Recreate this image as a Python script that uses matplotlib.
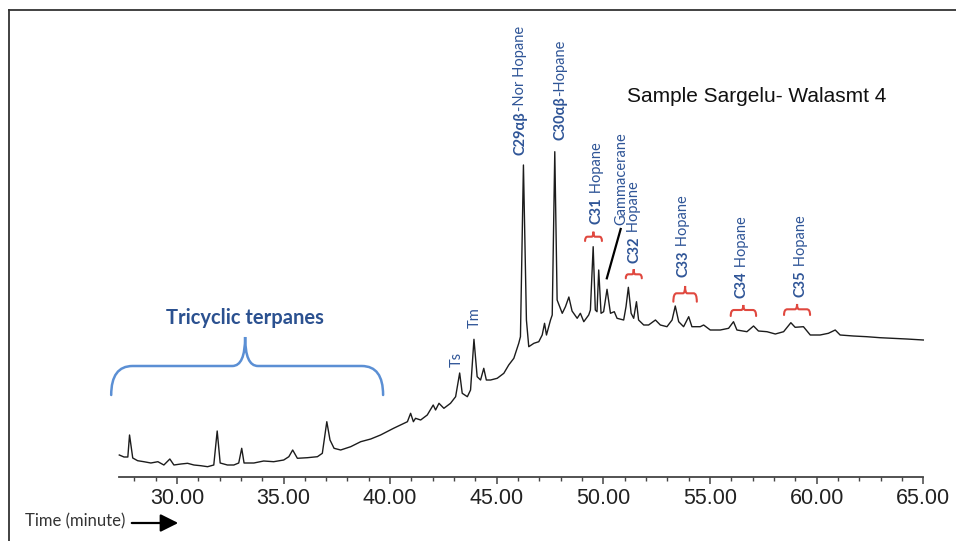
import numpy as np
import matplotlib
matplotlib.use('Agg')
from matplotlib import pyplot as plt
from matplotlib.path import Path
from matplotlib.patches import PathPatch, FancyArrowPatch
from matplotlib.lines import Line2D

# retention time (minutes) and detector response
time = [27.30, 27.52, 27.70, 27.78, 27.93, 28.16, 28.45, 28.78, 29.11, 29.39,
        29.67, 29.86, 30.19, 30.50, 30.80, 31.12, 31.44, 31.73, 31.89, 32.03,
        32.37, 32.67, 32.90, 33.04, 33.15, 33.61, 34.07, 34.54, 35.01, 35.25,
        35.43, 35.65, 36.12, 36.59, 36.82, 37.03, 37.18, 37.37, 37.68, 38.15,
        38.62, 39.09, 39.55, 40.16, 40.81, 40.96, 41.09, 41.19, 41.43, 41.74,
        42.02, 42.13, 42.29, 42.52, 42.83, 43.07, 43.26, 43.38, 43.62, 43.77,
        43.93, 44.08, 44.24, 44.39, 44.51, 44.71, 45.02, 45.33, 45.56, 45.80,
        46.03, 46.11, 46.25, 46.39, 46.50, 46.74, 46.97, 47.13, 47.24, 47.33,
        47.52, 47.60, 47.72, 47.83, 48.07, 48.22, 48.38, 48.53, 48.77, 48.92,
        49.08, 49.31, 49.39, 49.52, 49.62, 49.70, 49.78, 49.89, 50.01, 50.17,
        50.33, 50.51, 50.64, 50.95, 51.06, 51.17, 51.30, 51.42, 51.55, 51.65,
        51.89, 52.12, 52.44, 52.67, 52.98, 53.22, 53.37, 53.53, 53.76, 54.00,
        54.15, 54.54, 54.70, 55.01, 55.48, 55.87, 56.10, 56.26, 56.73, 57.04,
        57.27, 57.67, 58.06, 58.45, 58.79, 58.99, 59.38, 59.70, 60.16, 60.55,
        60.87, 61.10, 61.72, 62.35, 62.97, 63.60, 64.22, 65.00]

response = [22, 20, 20, 42, 19, 16.3, 15.3, 14, 15.3, 12,
            18, 12, 13, 13.7, 12, 11.3, 10.3, 12, 46, 14,
            12, 12, 14, 28.7, 14, 14, 16, 15.3, 17, 20.3,
            27, 18.7, 19.3, 20.3, 23.7, 55.3, 37, 28.7, 27, 30.3,
            35.3, 38, 42, 48.7, 55.3, 63.7, 55.3, 58.7, 57, 62,
            72, 67, 73.7, 68.7, 73.7, 80.3, 104, 83.7, 80.3, 87,
            137.7, 100.3, 97, 108.7, 97, 97, 98.7, 103.7, 112, 118.7,
            133.7, 140.3, 312, 157, 130.3, 133.7, 135.3, 142, 153.7, 142,
            157, 162, 325.3, 177, 163.7, 170.3, 180, 166, 158.7, 163.7,
            155.3, 162, 167, 230.3, 167, 165.3, 207, 163.7, 165.3, 187.7,
            163.7, 165.3, 158.7, 157, 170.3, 189.7, 163.7, 158.7, 175.3, 157,
            152, 152, 157, 152, 150.3, 157, 171, 155.3, 150.3, 160.3,
            150.3, 150.3, 152, 147, 147, 148.7, 155.3, 147, 145.3, 151,
            146, 145.3, 143, 145.3, 154.3, 149.7, 150.3, 142, 142, 143.7,
            147, 142, 141, 140.3, 139.3, 138.7, 138, 137]

major_ticks = [30, 35, 40, 45, 50, 55, 60, 65]
tick_labels = ['30.00', '35.00', '40.00', '45.00', '50.00', '55.00', '60.00', '65.00']

# compound names: bold part, plain part
compounds = [('C29αβ', '-Nor Hopane'), ('C30αβ', '-Hopane'), ('C31', ' Hopane'),
             ('C32', ' Hopane'), ('C33', ' Hopane'), ('C34', ' Hopane'), ('C35', ' Hopane')]
minor_names = ['Ts', 'Tm', 'Gammacerane']
sample_name = 'Sample Sargelu- Walasmt 4'

blue_text = '#2f5597'
blue_brace = '#5b8fd4'
red = '#e0483f'
label_font = ['Lato', 'DejaVu Sans']


def draw_brace(ax, x0, x1, xm, yb, ym, yt, rx, rt, color, lw):
    verts = [(x0, yb), (x0, ym), (x0 + rx, ym),
             (xm - rt, ym), (xm, ym), (xm, yt),
             (xm, ym), (xm + rt, ym),
             (x1 - rx, ym), (x1, ym), (x1, yb)]
    codes = [Path.MOVETO, Path.CURVE3, Path.CURVE3,
             Path.LINETO, Path.CURVE3, Path.CURVE3,
             Path.CURVE3, Path.CURVE3,
             Path.LINETO, Path.CURVE3, Path.CURVE3]
    ax.add_patch(PathPatch(Path(verts, codes), facecolor='none', edgecolor=color,
                           lw=lw, capstyle='round', clip_on=False))


def vlabel(ax, x, y, bold, rest, size=10.5):
    t = ax.text(x, y, bold, rotation=90, ha='center', va='bottom', color=blue_text,
                fontsize=size, fontweight='bold', family=label_font, clip_on=False)
    ax.annotate(rest, xy=(0.5, 1.0), xycoords=t, rotation=90, ha='center', va='bottom',
                color=blue_text, fontsize=size, family=label_font)


fig = plt.figure(figsize=(9.56, 5.41), dpi=100)
ax = fig.add_axes([119.3 / 956, 1 - 477 / 541, 804 / 956, 457 / 541])

ax.plot(time, response, color='#1c1c1c', lw=1.0, clip_on=False)

ax.set_xlim(27.3, 65.0)
ax.set_ylim(0, 457)
for side in ['top', 'right', 'left']:
    ax.spines[side].set_visible(False)
ax.spines['bottom'].set_color('#444444')
ax.spines['bottom'].set_linewidth(1.3)
ax.set_yticks([])
ax.set_xticks(major_ticks)
ax.set_xticklabels(tick_labels, family='Liberation Sans', fontsize=15.5, color='#222222')
ax.set_xticks(np.arange(28, 65), minor=True)
ax.tick_params(axis='x', which='major', length=5, width=1.1, color='#444444', pad=3)
ax.tick_params(axis='x', which='minor', length=3, width=1.0, color='#444444')

# tricyclic terpanes region
draw_brace(ax, 26.92, 39.67, 33.2, 82, 111, 140, 1.0, 0.6, blue_brace, 1.8)
ax.text(33.2, 159, 'Tricyclic terpanes', ha='center', va='center', color='#2b5190',
        fontsize=14.5, fontweight='bold', family=label_font)

# hopane braces
draw_brace(ax, 49.14, 49.93, 49.53, 236, 240.3, 245.3, 0.12, 0.08, red, 1.5)
draw_brace(ax, 51.05, 51.80, 51.42, 198.7, 202.7, 207.7, 0.12, 0.08, red, 1.5)
draw_brace(ax, 53.28, 54.38, 53.83, 175.3, 183.7, 191, 0.15, 0.1, red, 1.5)
draw_brace(ax, 55.97, 57.16, 56.56, 161, 167, 172, 0.15, 0.1, red, 1.5)
draw_brace(ax, 58.47, 59.69, 59.08, 162, 167.7, 173, 0.15, 0.1, red, 1.5)

label_pos = [(46.09, 322), (47.97, 337), (49.69, 253), (51.45, 214),
             (53.74, 200), (56.49, 179), (59.25, 180)]
for (bold, rest), (x, y) in zip(compounds, label_pos):
    vlabel(ax, x, y, bold, rest)

minor_pos = [(43.14, 110), (43.98, 149), (50.86, 252)]
for name, (x, y) in zip(minor_names, minor_pos):
    ax.text(x, y, name, rotation=90, ha='center', va='bottom', color=blue_text,
            fontsize=10.5, family=label_font, clip_on=False)

# leader line to gammacerane peak
ax.plot([50.81, 50.16], [248, 198.7], color='black', lw=1.6, clip_on=False)

ax.text(51.11, 380, sample_name, ha='left', va='center', color='#111111',
        fontsize=15, family='Liberation Sans')

# time axis caption with arrow
fig.text(25 / 956, 1 - 521 / 541, 'Time (minute)', ha='left', va='center',
         color='#333333', fontsize=12, family=label_font)
fig.add_artist(FancyArrowPatch(
    (129 / 956, 1 - 523 / 541), (181 / 956, 1 - 523 / 541), transform=fig.transFigure,
    arrowstyle='-|>,head_length=0.9,head_width=0.45', mutation_scale=12,
    color='black', lw=1.6))

# outer frame (top and left)
fig.add_artist(Line2D([9 / 956, 1], [1 - 10 / 541, 1 - 10 / 541],
                      transform=fig.transFigure, color='#333333', lw=1.3))
fig.add_artist(Line2D([9 / 956, 9 / 956], [0, 1 - 10 / 541],
                      transform=fig.transFigure, color='#333333', lw=1.3))

fig.savefig('out.png', dpi=100)
